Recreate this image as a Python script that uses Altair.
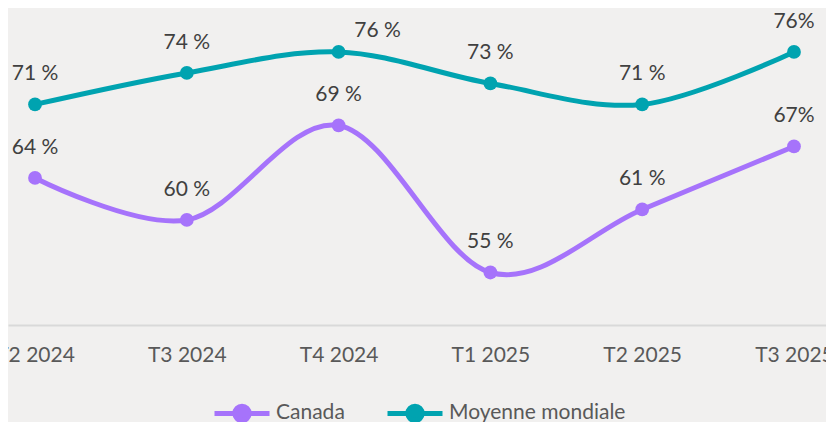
import json
import altair as alt
import pandas as pd

quarters = ["T2 2024", "T3 2024", "T4 2024", "T1 2025", "T2 2025", "T3 2025"]
series_names = ["Canada", "Moyenne mondiale"]
canada = [64, 60, 69, 55, 61, 67]
moyenne = [71, 74, 76, 73, 71, 76]
canada_labels = ["64 %", "60 %", "69 %", "55 %", "61 %", "67%"]
moyenne_labels = ["71 %", "74 %", "76 %", "73 %", "71 %", "76%"]
colors = ["#a673fb", "#00a3b0"]

rows = []
for i, q in enumerate(quarters):
    rows.append({"idx": i, "quarter": q, "serie": series_names[0], "value": canada[i], "label": canada_labels[i]})
    rows.append({"idx": i, "quarter": q, "serie": series_names[1], "value": moyenne[i], "label": moyenne_labels[i]})
df = pd.DataFrame(rows)

FONT = "Lato"
label_expr = json.dumps(quarters) + "[datum.value]"

legend_symbol = "M-1,0L1,0M0.26,0A0.26,0.26,0,1,1,-0.26,0A0.26,0.26,0,1,1,0.26,0Z"

x = alt.X(
    "idx:Q",
    scale=alt.Scale(domain=[-0.178, 5.211], nice=False, zero=False),
    axis=alt.Axis(
        values=list(range(len(quarters))),
        labelExpr=label_expr,
        title=None,
        grid=False,
        ticks=False,
        tickSize=0,
        labelPadding=30,
        labelBaseline="middle",
        labelFont=FONT,
        labelFontSize=21,
        labelColor="#595959",
        labelFlush=False,
        labelOverlap=False,
        domainColor="#d9d9d9",
        domainWidth=2,
    ),
)
y = alt.Y("value:Q", scale=alt.Scale(domain=[50, 79.8], nice=False, zero=False), axis=None)
color = alt.Color(
    "serie:N",
    scale=alt.Scale(domain=series_names, range=colors),
    legend=alt.Legend(
        title=None,
        orient="none",
        direction="horizontal",
        legendX=204,
        legendY=371,
        symbolType=legend_symbol,
        symbolSize=3025,
        symbolStrokeWidth=5,
        labelFont=FONT,
        labelFontSize=21,
        labelColor="#595959",
        labelOffset=4,
        labelLimit=400,
        columnPadding=32,
    ),
)

base = alt.Chart(df)
lines = base.mark_line(interpolate="cardinal", strokeWidth=5, strokeCap="round").encode(x=x, y=y, color=color, detail="serie:N")
points = base.mark_point(filled=True, size=190, opacity=1).encode(x=x, y=y, color=color)

text_main = base.transform_filter(
    "!(datum.serie == 'Moyenne mondiale' && datum.idx == 2)"
).mark_text(dy=-30, font=FONT, fontSize=21, color="#404040", baseline="middle").encode(x=x, y=y, text="label:N")
text_t4 = base.transform_filter(
    "datum.serie == 'Moyenne mondiale' && datum.idx == 2"
).mark_text(dx=39, dy=-21, font=FONT, fontSize=21, color="#404040", baseline="middle").encode(x=x, y=y, text="label:N")

chart = alt.layer(lines, points, text_main, text_t4).properties(
    width=818,
    height=313,
    autosize=alt.AutoSizeParams(type="none"),
    padding={"left": 0, "top": 4, "right": 0, "bottom": 97},
    background="#f1f0ef",
).configure_view(stroke=None)

chart.save("out.html", embed_options={"renderer": "svg", "actions": False})
